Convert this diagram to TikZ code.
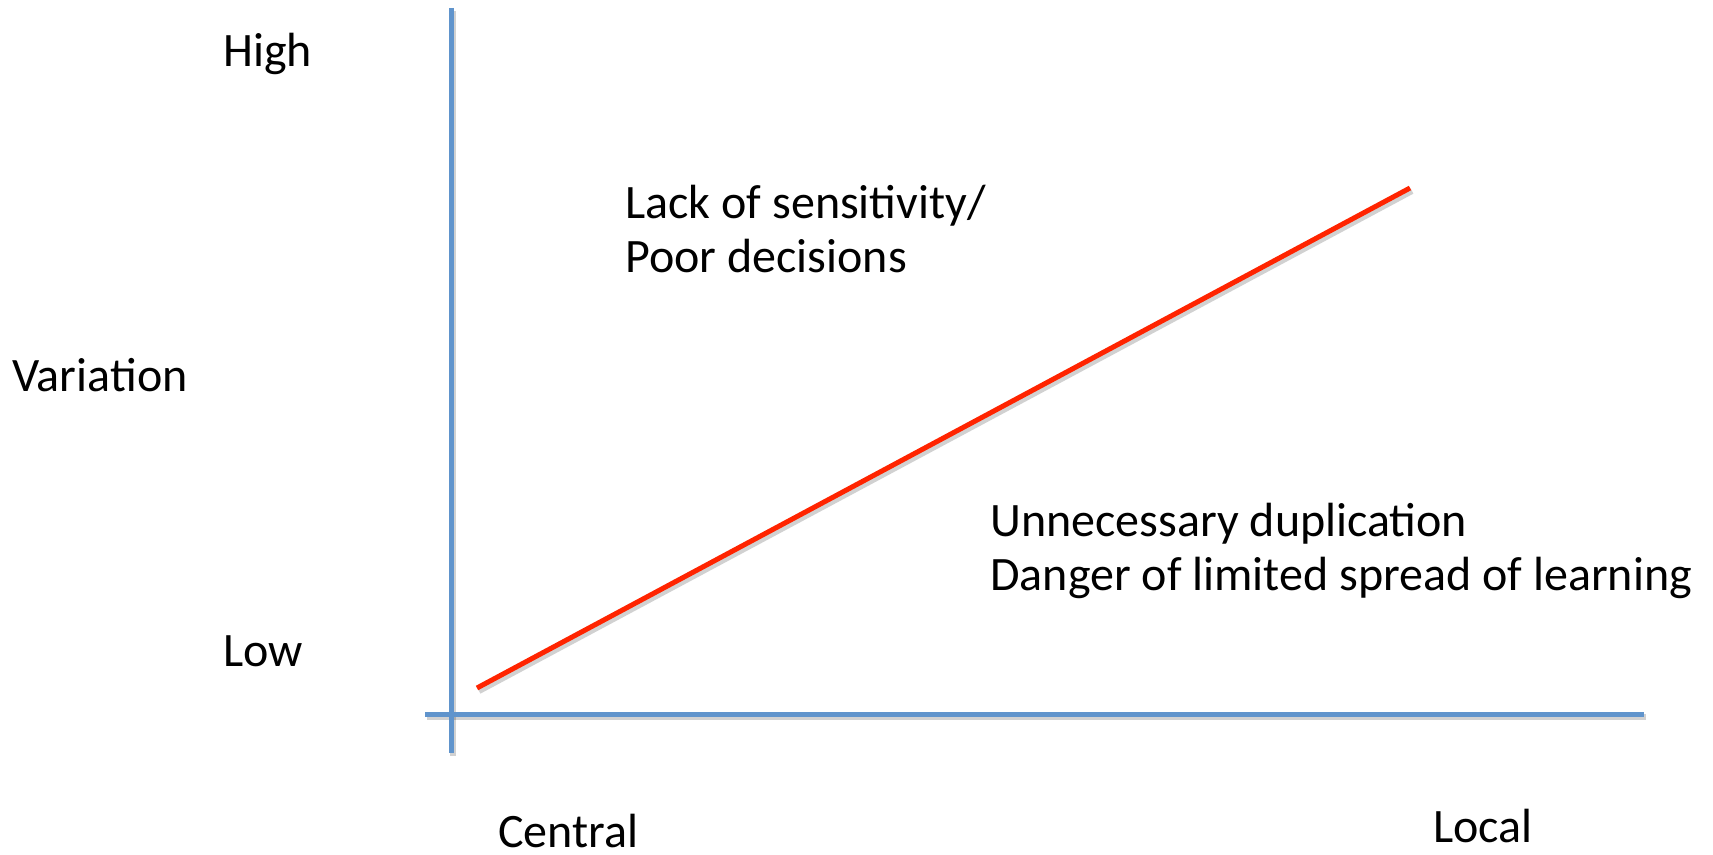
\documentclass[tikz,border=0pt]{standalone}
\usepackage{fontspec}
\setmainfont{Carlito}
\definecolor{axisblue}{RGB}{96,148,204}
\definecolor{trendred}{RGB}{255,36,0}
\tikzset{
  axisline/.style={draw=axisblue, line width=2.5pt},
  trendline/.style={draw=trendred, line width=2.5pt},
  shadowline/.style={draw=black, opacity=0.18, line width=3pt},
  lbl/.style={anchor=base west, inner sep=0pt, font=\fontsize{24}{28}\selectfont, align=left},
}
\begin{document}
\begin{tikzpicture}[x=0.5pt, y=-0.5pt]
\useasboundingbox (0,0) rectangle (1713,855);
% axis end points
\coordinate (vtop) at (451,8);
\coordinate (vbot) at (451,753);
\coordinate (hleft) at (425,714);
\coordinate (hright) at (1644,714);
\coordinate (rstart) at (477,688);
\coordinate (rend) at (1410,188);
% shadows
\draw[shadowline] ([shift={(2,3)}]hleft) -- ([shift={(2,3)}]hright);
\draw[shadowline] ([shift={(2,3)}]vtop) -- ([shift={(2,3)}]vbot);
\draw[shadowline] ([shift={(2,3)}]rstart) -- ([shift={(2,3)}]rend);
% axes
\draw[axisline] (hleft) -- (hright);
\draw[axisline] (vtop) -- (vbot);
% trend
\draw[trendline] (rstart) -- (rend);
% labels
\node[lbl] (high) at (223,67) {High};
\node[lbl] (var) at (12,392) {Variation};
\node[lbl] (low) at (223,666) {Low};
\node[lbl] (central) at (498,847) {Central};
\node[lbl] (local) at (1433,842) {Local};
\node[lbl] (lack) at (625,219) {Lack of sensitivity/};
\node[lbl] (poor) at (625,273) {Poor decisions};
\node[lbl] (unn) at (990,536) {Unnecessary duplication};
\node[lbl] (danger) at (990,590) {Danger of limited spread of learning};
\end{tikzpicture}
\end{document}
